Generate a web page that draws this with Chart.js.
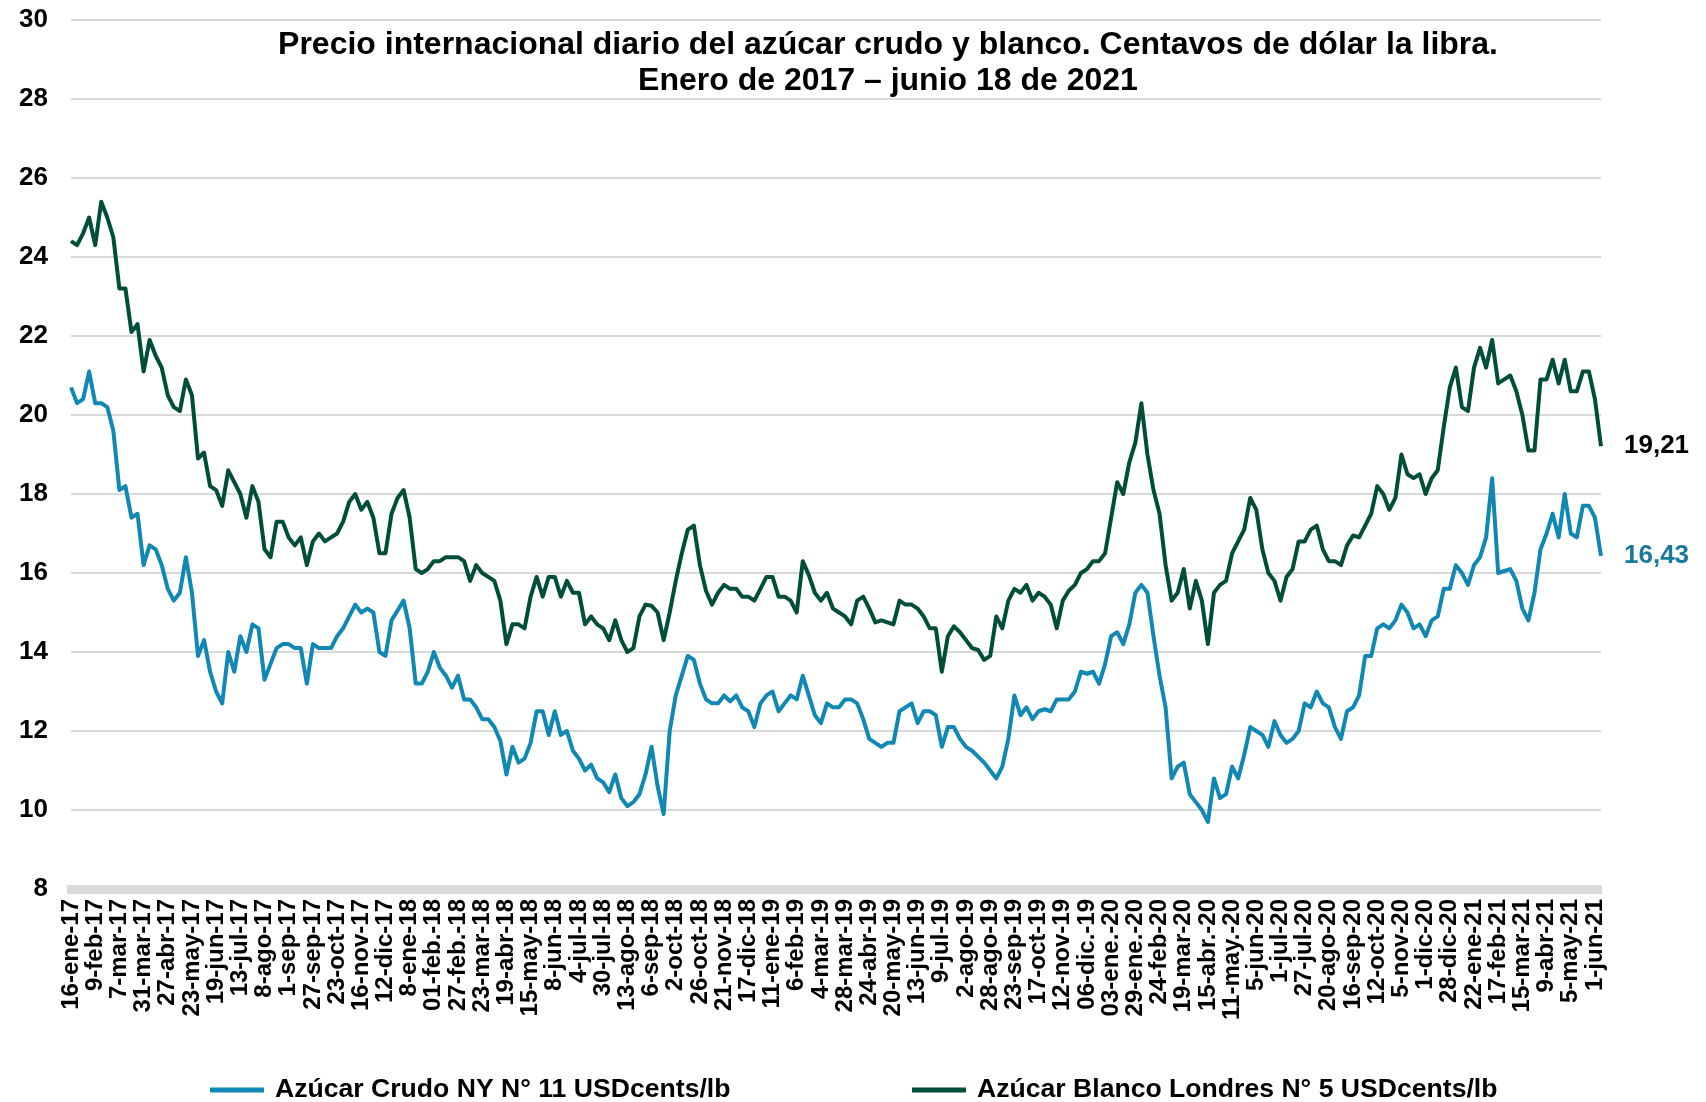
<!DOCTYPE html>
<html>
<head>
<meta charset="utf-8">
<title>Precio internacional diario del azúcar</title>
<script src="https://cdn.jsdelivr.net/npm/chart.js@4.4.1/dist/chart.umd.min.js"></script>
<style>
  body { margin: 0; background: #fff; }
  #azucar { display: block; }
</style>
</head>
<body>
<canvas id="azucar" width="1706" height="1102"></canvas>
<script>
//=============================================== DATOS ========================================
var tituloLineas = [
    "Precio internacional diario del azúcar crudo y blanco. Centavos de dólar la libra.",
    "Enero de 2017 – junio 18 de 2021"
];

// fechas del eje x (una etiqueta cada 4 valores)
var fechas = [
    "16-ene-17", "9-feb-17", "7-mar-17", "31-mar-17", "27-abr-17", "23-may-17", "19-jun-17", "13-jul-17",
    "8-ago-17", "1-sep-17", "27-sep-17", "23-oct-17", "16-nov-17", "12-dic-17", "8-ene-18", "01-feb.-18",
    "27-feb.-18", "23-mar-18", "19-abr-18", "15-may-18", "8-jun-18", "4-jul-18", "30-jul-18", "13-ago-18",
    "6-sep-18", "2-oct-18", "26-oct-18", "21-nov-18", "17-dic-18", "11-ene-19", "6-feb-19", "4-mar-19",
    "28-mar-19", "24-abr-19", "20-may-19", "13-jun-19", "9-jul-19", "2-ago-19", "28-ago-19", "23-sep-19",
    "17-oct-19", "12-nov-19", "06-dic.-19", "03-ene.-20", "29-ene.-20", "24-feb-20", "19-mar-20", "15-abr.-20",
    "11-may.-20", "5-jun-20", "1-jul-20", "27-jul-20", "20-ago-20", "16-sep-20", "12-oct-20", "5-nov-20",
    "1-dic-20", "28-dic-20", "22-ene-21", "17-feb-21", "15-mar-21", "9-abr-21", "5-may-21", "1-jun-21"
];
var PUNTOS_POR_FECHA = 4;

// Azúcar Crudo NY N° 11 (USDcents/lb)
var crudo = [
    20.7, 20.3, 20.4, 21.1,   20.3, 20.3, 20.2, 19.6,   18.1, 18.2, 17.4, 17.5,   16.2, 16.7, 16.6, 16.2,
    15.6, 15.3, 15.5, 16.4,   15.5, 13.9, 14.3, 13.5,   13.0, 12.7, 14.0, 13.5,   14.4, 14.0, 14.7, 14.6,
    13.3, 13.7, 14.1, 14.2,   14.2, 14.1, 14.1, 13.2,   14.2, 14.1, 14.1, 14.1,   14.4, 14.6, 14.9, 15.2,
    15.0, 15.1, 15.0, 14.0,   13.9, 14.8, 15.05, 15.3,  14.6, 13.2, 13.2, 13.5,   14.0, 13.6, 13.4, 13.1,
    13.4, 12.8, 12.8, 12.6,   12.3, 12.3, 12.1, 11.75,  10.9, 11.6, 11.2, 11.3,   11.7, 12.5, 12.5, 11.9,
    12.5, 11.9, 12.0, 11.5,   11.3, 11.0, 11.15, 10.8,  10.7, 10.45, 10.9, 10.3,  10.1, 10.2, 10.4, 10.9,
    11.6, 10.6, 9.9, 12.0,    12.9, 13.4, 13.9, 13.8,   13.2, 12.8, 12.7, 12.7,   12.9, 12.75, 12.9, 12.6,
    12.5, 12.1, 12.7, 12.9,   13.0, 12.5, 12.7, 12.9,   12.8, 13.4, 12.9, 12.4,   12.2, 12.7, 12.6, 12.6,
    12.8, 12.8, 12.7, 12.3,   11.8, 11.7, 11.6, 11.7,   11.7, 12.5, 12.6, 12.7,   12.2, 12.5, 12.5, 12.4,
    11.6, 12.1, 12.1, 11.8,   11.6, 11.5, 11.35, 11.2,  11.0, 10.8, 11.1, 11.8,   12.9, 12.4, 12.6, 12.3,
    12.5, 12.55, 12.5, 12.8,  12.8, 12.8, 13.0, 13.5,   13.45, 13.5, 13.2, 13.7,  14.4, 14.5, 14.2, 14.7,
    15.5, 15.7, 15.5, 14.4,   13.4, 12.6, 10.8, 11.1,   11.2, 10.4, 10.2, 10.0,   9.7, 10.8, 10.3, 10.4,
    11.1, 10.8, 11.4, 12.1,   12.0, 11.9, 11.6, 12.25,  11.9, 11.7, 11.8, 12.0,   12.7, 12.6, 13.0, 12.7,
    12.6, 12.1, 11.8, 12.5,   12.6, 12.9, 13.9, 13.9,   14.6, 14.7, 14.6, 14.8,   15.2, 15.0, 14.6, 14.7,
    14.4, 14.8, 14.9, 15.6,   15.6, 16.2, 16.0, 15.7,   16.2, 16.4, 16.9, 18.4,   16.0, 16.05, 16.1, 15.8,
    15.1, 14.8, 15.5, 16.6,   17.0, 17.5, 16.9, 18.0,   17.0, 16.9, 17.7, 17.7,   17.4, 16.43
];

// Azúcar Blanco Londres N° 5 (USDcents/lb)
var blanco = [
    24.4, 24.3, 24.6, 25.0,   24.3, 25.4, 25.0, 24.5,   23.2, 23.2, 22.1, 22.3,   21.1, 21.9, 21.5, 21.2,
    20.5, 20.2, 20.1, 20.9,   20.5, 18.9, 19.05, 18.2,  18.1, 17.7, 18.6, 18.3,   18.0, 17.4, 18.2, 17.8,
    16.6, 16.4, 17.3, 17.3,   16.9, 16.7, 16.9, 16.2,   16.8, 17.0, 16.8, 16.9,   17.0, 17.3, 17.8, 18.0,
    17.6, 17.8, 17.4, 16.5,   16.5, 17.5, 17.9, 18.1,   17.4, 16.1, 16.0, 16.1,   16.3, 16.3, 16.4, 16.4,
    16.4, 16.3, 15.8, 16.2,   16.0, 15.9, 15.8, 15.3,   14.2, 14.7, 14.7, 14.6,   15.4, 15.9, 15.4, 15.9,
    15.9, 15.4, 15.8, 15.5,   15.5, 14.7, 14.9, 14.7,   14.6, 14.3, 14.8, 14.3,   14.0, 14.1, 14.9, 15.2,
    15.17, 15.0, 14.3, 15.0,  15.8, 16.5, 17.1, 17.2,   16.2, 15.55, 15.2, 15.5,  15.7, 15.6, 15.6, 15.4,
    15.4, 15.3, 15.6, 15.9,   15.9, 15.4, 15.4, 15.3,   15.0, 16.3, 15.95, 15.5,  15.3, 15.5, 15.1, 15.0,
    14.9, 14.7, 15.3, 15.4,   15.1, 14.75, 14.8, 14.75, 14.7, 15.3, 15.2, 15.2,   15.1, 14.9, 14.6, 14.6,
    13.5, 14.4, 14.65, 14.5,  14.3, 14.1, 14.05, 13.8,  13.9, 14.9, 14.6, 15.3,   15.6, 15.5, 15.7, 15.3,
    15.5, 15.4, 15.2, 14.6,   15.3, 15.55, 15.7, 16.0,  16.1, 16.3, 16.3, 16.5,   17.4, 18.3, 18.0, 18.8,
    19.3, 20.3, 19.0, 18.1,   17.5, 16.2, 15.3, 15.5,   16.1, 15.1, 15.8, 15.3,   14.2, 15.5, 15.7, 15.8,
    16.5, 16.8, 17.1, 17.9,   17.6, 16.6, 16.0, 15.8,   15.3, 15.9, 16.1, 16.8,   16.8, 17.1, 17.2, 16.6,
    16.3, 16.3, 16.2, 16.7,   16.95, 16.9, 17.2, 17.5,  18.2, 18.0, 17.6, 17.9,   19.0, 18.5, 18.4, 18.5,
    18.0, 18.4, 18.6, 19.7,   20.7, 21.2, 20.2, 20.1,   21.2, 21.7, 21.2, 21.9,   20.8, 20.9, 21.0, 20.6,
    20.0, 19.1, 19.1, 20.9,   20.9, 21.4, 20.8, 21.4,   20.6, 20.6, 21.1, 21.1,   20.4, 19.21
];

var etiquetas = [];
for (var k = 0; k < crudo.length; k++) {
    etiquetas.push(k % PUNTOS_POR_FECHA == 0 ? fechas[k / PUNTOS_POR_FECHA] : '');
}

var COLOR_CRUDO = "#0F88B4";
var COLOR_BLANCO = "#004D3A";
var colorValor = ["#17799B", "#000000"];
var FUENTE = '"Liberation Sans", Arial, sans-serif';

Chart.defaults.font.family = FUENTE;
Chart.defaults.color = '#000';

//=============================================== PLUGINS ========================================
// titulo dentro del area de la grafica
var titulo = {
    id: 'titulo',
    afterDraw: function(chart) {
        var c = chart.ctx;
        c.save();
        c.fillStyle = '#000';
        c.font = 'bold 32px ' + FUENTE;
        c.textAlign = 'center';
        c.textBaseline = 'middle';
        c.fillText(tituloLineas[0], 888, 45);
        c.fillText(tituloLineas[1], 888, 81);
        c.restore();
    }
};

// ultimo valor de cada serie a la derecha
var valoresFinales = {
    id: 'valoresFinales',
    afterDatasetsDraw: function(chart) {
        var c = chart.ctx;
        c.save();
        c.font = 'bold 26px ' + FUENTE;
        c.textAlign = 'left';
        c.textBaseline = 'middle';
        chart.data.datasets.forEach(function(ds, i) {
            var meta = chart.getDatasetMeta(i);
            var ultimo = meta.data[meta.data.length - 1];
            var valor = ds.data[ds.data.length - 1];
            c.fillStyle = colorValor[i];
            c.fillText(valor.toFixed(2).replace('.', ','), ultimo.x + 23, ultimo.y);
        });
        c.restore();
    }
};

// leyenda abajo con trazo de linea
var leyenda = {
    id: 'leyenda',
    afterDraw: function(chart) {
        var c = chart.ctx;
        var xs = [210, 912];
        var y = 1090;
        c.save();
        c.font = 'bold 26.6px ' + FUENTE;
        c.textAlign = 'left';
        c.textBaseline = 'middle';
        chart.data.datasets.forEach(function(ds, i) {
            c.strokeStyle = ds.borderColor;
            c.lineWidth = 5;
            c.beginPath();
            c.moveTo(xs[i], y);
            c.lineTo(xs[i] + 54, y);
            c.stroke();
            c.fillStyle = '#000';
            c.fillText(ds.label, xs[i] + 65, y);
        });
        c.restore();
    }
};

//=============================================== GRAFICA ========================================
var ctx1 = document.getElementById("azucar");
var azucar = new Chart(ctx1, {
    type: 'line',
    data: {
        labels: etiquetas,
        datasets: [{
            label: "Azúcar Crudo NY N° 11 USDcents/lb",
            data: crudo,
            borderColor: COLOR_CRUDO,
            backgroundColor: COLOR_CRUDO,
            borderWidth: 4,
            borderJoinStyle: 'round',
            pointRadius: 0,
            tension: 0,
            fill: false
        }, {
            label: "Azúcar Blanco Londres N° 5 USDcents/lb",
            data: blanco,
            borderColor: COLOR_BLANCO,
            backgroundColor: COLOR_BLANCO,
            borderWidth: 4,
            borderJoinStyle: 'round',
            pointRadius: 0,
            tension: 0,
            fill: false
        }]
    },
    options: {
        responsive: false,
        animation: false,
        layout: { padding: { top: 20, right: 105, left: 0, bottom: 0 } },
        plugins: {
            legend: { display: false },
            title: { display: false },
            tooltip: { enabled: false }
        },
        scales: {
            x: {
                grid: { display: false },
                border: { display: true, color: '#d9d9d9', width: 9 },
                ticks: {
                    autoSkip: false,
                    minRotation: 90,
                    maxRotation: 90,
                    padding: 2,
                    color: '#000',
                    font: { size: 24, weight: 'bold' }
                },
                afterFit: function(scale) { scale.height = 213; }
            },
            y: {
                min: 8,
                max: 30,
                ticks: {
                    stepSize: 2,
                    padding: 23,
                    color: '#000',
                    font: { size: 26, weight: 'bold' }
                },
                grid: { color: '#d9d9d9', lineWidth: 2, drawTicks: false },
                border: { display: false },
                afterFit: function(scale) {
                    scale.width = 71;
                    // sin margen extra arriba: el 30 queda en el borde superior
                    scale.paddingTop = 0;
                    scale.paddingBottom = 0;
                }
            }
        }
    },
    plugins: [titulo, valoresFinales, leyenda]
});
</script>
</body>
</html>
